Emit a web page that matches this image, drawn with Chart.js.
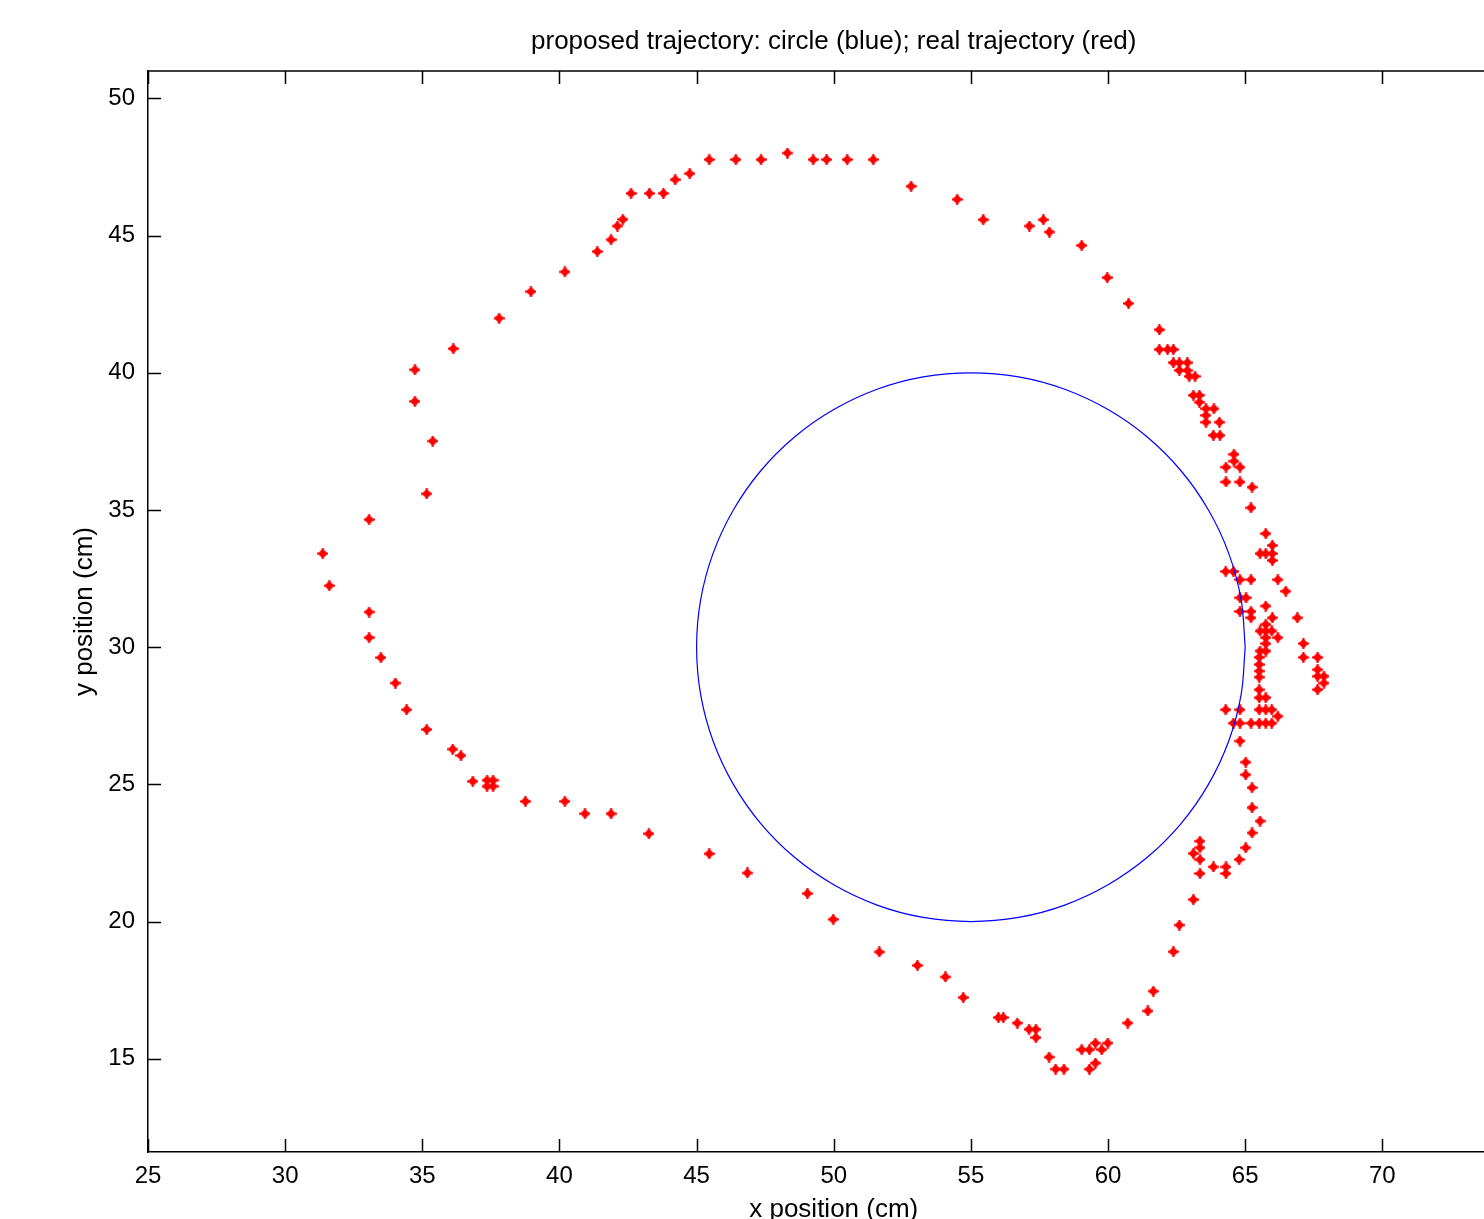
<!DOCTYPE html>
<html><head><meta charset="utf-8">
<script src="https://cdn.jsdelivr.net/npm/chart.js@4/dist/chart.umd.min.js"></script>
<style>
html,body{margin:0;padding:0;overflow:hidden;background:#fff;width:1484px;height:1219px}
#wrap{position:absolute;left:0;top:0;width:1560px;height:1240px}
</style>
</head><body>
<div id="wrap"><canvas id="c" width="1560" height="1240"></canvas></div>
<script>
const titleText = 'proposed trajectory: circle (blue); real trajectory (red)';
const xLabel = 'x position (cm)';
const yLabel = 'y position (cm)';
const xTicks = [25, 30, 35, 40, 45, 50, 55, 60, 65, 70, 75];
const yTicks = [15, 20, 25, 30, 35, 40, 45, 50];

// proposed trajectory (blue circle)
const circleX = [65, 64.85, 64.40, 63.66, 62.66, 61.43, 60, 58.42, 56.74, 55, 53.26, 51.58, 50, 48.57, 47.34, 46.34, 45.60, 45.15, 45,
                 45.15, 45.60, 46.34, 47.34, 48.57, 50, 51.58, 53.26, 55, 56.74, 58.42, 60, 61.43, 62.66, 63.66, 64.40, 64.85, 65];
const circleY = [30, 31.74, 33.42, 35, 36.43, 37.66, 38.66, 39.40, 39.85, 40, 39.85, 39.40, 38.66, 37.66, 36.43, 35, 33.42, 31.74, 30,
                 28.26, 26.58, 25, 23.57, 22.34, 21.34, 20.60, 20.15, 20, 20.15, 20.60, 21.34, 22.34, 23.57, 25, 26.58, 28.26, 30];

// real trajectory (red points)
const realX = [
 31.37, 31.61, 33.06, 35.16, 35.38, 34.73, 34.73, 36.13, 37.80, 38.96, 40.20, 41.38, 41.88, 42.11, 42.31, 42.61, 43.28, 43.79, 44.22, 44.75,
 45.46, 46.43, 47.35, 48.31, 49.25, 49.74, 50.49, 51.44, 52.82, 54.50, 55.45, 57.13, 57.64, 57.86, 59.04, 59.97, 60.75, 61.87, 61.87, 62.17,
 62.38, 62.38, 62.60, 62.89, 62.60, 62.89, 62.96, 63.17, 63.11, 63.33, 63.33, 63.57, 63.86, 63.57, 63.57, 64.06, 63.84, 64.08, 64.59, 64.59,
 64.30, 64.81, 64.30, 64.81, 65.25, 65.21,
 65.75, 65.99, 65.54, 65.75, 65.99, 65.99, 64.29, 64.57, 64.81, 65.21, 66.19, 66.48, 64.81, 65.03, 65.75, 64.81, 65.21, 65.21, 65.99, 66.90,
 65.75, 65.54, 65.75, 65.97, 65.75, 66.19, 65.75, 67.12, 65.54, 65.75, 67.12, 67.64, 65.51, 65.51, 65.51, 65.51, 67.64, 67.64, 67.87, 67.87,
 67.64, 65.51, 65.51, 65.75, 64.29, 64.81, 65.51, 65.75, 65.97, 66.19, 64.57, 64.81, 65.21, 65.51, 65.75, 65.97, 64.81,
 65.02, 65.02, 65.25, 65.25, 65.54, 65.25, 65.02, 64.78, 64.30, 64.30, 63.84, 63.35, 63.35, 63.11, 63.35, 63.35, 63.11, 62.60, 62.38,
 61.65, 61.45, 60.72, 59.99, 59.77, 59.54, 59.32, 59.04, 59.54, 59.32, 58.39, 58.09, 57.85, 57.37, 57.37, 57.12, 56.69, 56.18, 56.00,
 54.72, 54.07, 53.05, 51.66, 49.98, 49.04, 46.85, 45.46,
 43.26, 41.88, 40.93, 40.20, 38.76, 37.58, 37.36, 37.58, 37.36, 36.84, 36.41, 36.11, 35.16, 34.43, 34.02, 33.49, 33.06, 33.06
];
const realY = [
 33.41, 32.24, 34.65, 35.59, 37.51, 38.96, 40.11, 40.88, 41.99, 42.96, 43.68, 44.42, 44.85, 45.35, 45.59, 46.54, 46.54, 46.54, 47.04, 47.26,
 47.77, 47.77, 47.77, 48.01, 47.77, 47.77, 47.77, 47.77, 46.80, 46.32, 45.58, 45.35, 45.58, 45.13, 44.64, 43.47, 42.53, 41.57, 40.85, 40.85,
 40.85, 40.37, 40.37, 40.37, 40.09, 40.09, 39.87, 39.87, 39.18, 39.18, 38.93, 38.69, 38.69, 38.45, 38.20, 38.20, 37.72, 37.72, 37.03, 36.78,
 36.56, 36.56, 36.02, 36.02, 35.83, 35.08,
 34.14, 33.71, 33.41, 33.41, 33.41, 33.16, 32.76, 32.76, 32.46, 32.46, 32.46, 32.04, 31.80, 31.80, 31.50, 31.30, 31.30, 31.07, 31.07, 31.07,
 30.83, 30.59, 30.59, 30.59, 30.35, 30.35, 30.13, 30.13, 29.86, 29.86, 29.63, 29.63, 29.63, 29.37, 29.13, 28.91, 29.18, 28.94, 28.94, 28.69,
 28.45, 28.45, 28.16, 28.16, 27.72, 27.72, 27.72, 27.72, 27.72, 27.48, 27.23, 27.23, 27.23, 27.23, 27.23, 27.23, 26.58,
 25.81, 25.35, 24.88, 24.15, 23.66, 23.23, 22.69, 22.26, 21.99, 21.75, 21.99, 22.93, 22.69, 22.48, 22.26, 21.75, 20.80, 19.87, 18.90,
 17.46, 16.74, 16.30, 15.57, 15.33, 15.57, 15.33, 15.33, 14.84, 14.62, 14.62, 14.62, 15.06, 15.77, 16.07, 16.07, 16.30, 16.50, 16.50,
 17.23, 17.98, 18.40, 18.89, 20.08, 21.02, 21.77, 22.47,
 23.20, 23.93, 23.93, 24.38, 24.38, 24.93, 24.93, 25.15, 25.15, 25.11, 26.05, 26.28, 27.00, 27.72, 28.69, 29.62, 30.35, 31.28
];

const FONT = 'Liberation Sans, Arial, Helvetica, sans-serif';

function makeMarker() {
  const c = document.createElement('canvas');
  c.width = 11; c.height = 11;
  const g = c.getContext('2d');
  g.fillStyle = '#ff0000';
  g.beginPath();
  g.moveTo(5.5, 0.5); g.lineTo(10.5, 5.5); g.lineTo(5.5, 10.5); g.lineTo(0.5, 5.5);
  g.closePath(); g.fill();
  g.fillRect(4.5, 0, 2, 11);
  g.fillRect(0, 4.5, 11, 2);
  return c;
}

const frameTicks = {
  id: 'frameTicks',
  afterDatasetsDraw(chart) {
    const {ctx, chartArea: a, scales: {x, y}} = chart;
    ctx.save();
    ctx.strokeStyle = '#000';
    ctx.lineWidth = 1.5;
    ctx.beginPath();
    ctx.moveTo(a.left, a.top); ctx.lineTo(a.right, a.top); ctx.lineTo(a.right, a.bottom);
    ctx.stroke();
    ctx.beginPath();
    x.ticks.forEach(t => {
      const p = Math.round(x.getPixelForValue(t.value)) + 0.5;
      ctx.moveTo(p, a.bottom); ctx.lineTo(p, a.bottom - 13);
      ctx.moveTo(p, a.top); ctx.lineTo(p, a.top + 13);
    });
    y.ticks.forEach(t => {
      const p = Math.round(y.getPixelForValue(t.value)) + 0.5;
      ctx.moveTo(a.left, p); ctx.lineTo(a.left + 13, p);
      ctx.moveTo(a.right, p); ctx.lineTo(a.right - 13, p);
    });
    ctx.stroke();
    ctx.restore();
  }
};

const circleData = circleX.map((v, i) => ({x: v, y: circleY[i]}));
const realData = realX.map((v, i) => ({x: v, y: realY[i]}));

new Chart(document.getElementById('c'), {
  type: 'scatter',
  data: {
    datasets: [
      {label: 'proposed trajectory', data: circleData, showLine: true, borderColor: '#0000ff', borderWidth: 1.2,
       pointRadius: 0, tension: 0.35, fill: false},
      {label: 'real trajectory', data: realData, pointStyle: makeMarker(), pointRadius: 5, showLine: false}
    ]
  },
  options: {
    responsive: false,
    animation: false,
    layout: {padding: {left: 0, right: 40.5, top: 0, bottom: 0}},
    plugins: {
      legend: {display: false},
      tooltip: {enabled: false},
      title: {display: true, text: titleText, fullSize: false, color: '#000',
              font: {family: FONT, size: 26, weight: 'normal', lineHeight: 1.2},
              padding: {top: 26.4, bottom: 13.4}}
    },
    scales: {
      x: {
        type: 'linear', position: 'bottom', min: 25, max: 75,
        afterBuildTicks: s => { s.ticks = xTicks.map(v => ({value: v})); },
        afterFit: s => { s.height = 88; },
        grid: {display: false, drawTicks: false},
        border: {display: true, color: '#000', width: 1.5},
        ticks: {padding: 10, color: '#000', font: {family: FONT, size: 24}, maxRotation: 0, autoSkip: false},
        title: {display: true, text: xLabel, color: '#000', font: {family: FONT, size: 26, lineHeight: 1.2},
                padding: {top: 0, bottom: 14.4}}
      },
      y: {
        type: 'linear', position: 'left', min: 11.6, max: 51,
        afterBuildTicks: s => { s.ticks = yTicks.map(v => ({value: v})); },
        afterFit: s => { s.width = 148; },
        grid: {display: false, drawTicks: false},
        border: {display: true, color: '#000', width: 1.5},
        ticks: {padding: 13, color: '#000', font: {family: FONT, size: 24}, autoSkip: false},
        title: {display: true, text: yLabel, color: '#000', font: {family: FONT, size: 26, lineHeight: 1.2},
                padding: {top: 69.4, bottom: 0}}
      }
    }
  },
  plugins: [frameTicks]
});
</script>
</body></html>
